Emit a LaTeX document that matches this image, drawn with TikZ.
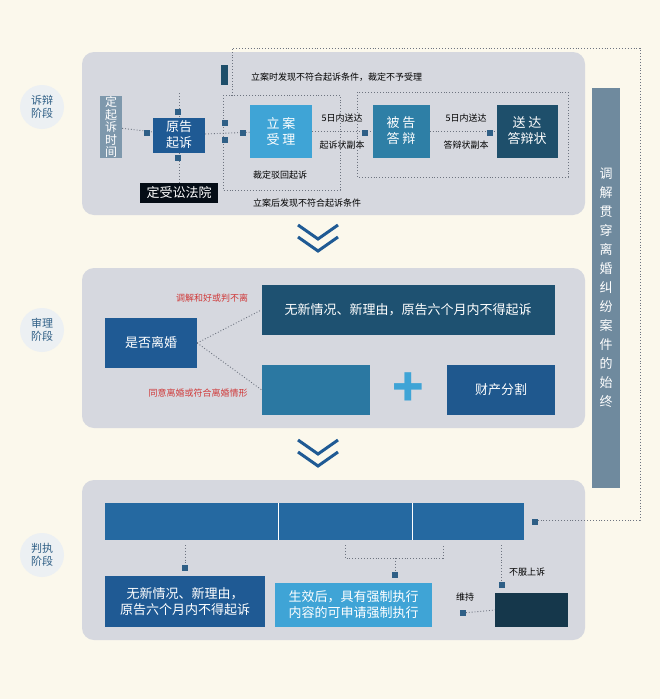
\documentclass[tikz,border=0pt]{standalone}
\usepackage{fontspec}
\setmainfont{Noto Sans CJK SC}
\usetikzlibrary{arrows.meta}
\definecolor{cream}{HTML}{FBF8EC}
\definecolor{panel}{HTML}{D6D8DF}
\definecolor{navy}{HTML}{1F5A94}
\definecolor{sky}{HTML}{3FA4D6}
\definecolor{teal}{HTML}{2E7FA6}
\definecolor{deep}{HTML}{1E4F6B}
\definecolor{slate}{HTML}{7E98AC}
\definecolor{barblue}{HTML}{6F8A9E}
\definecolor{redtxt}{HTML}{D03A3A}
\definecolor{sq}{HTML}{2F5F86}
\definecolor{dline}{HTML}{6E7480}
\begin{document}
\begin{tikzpicture}[x=1pt,y=-1pt,
  box/.style={fill=#1,text=white,inner sep=0pt,align=center,font=\fontsize{13}{16}\selectfont},
  dot/.style={draw=dline,dotted,line width=0.9pt},
  pin/.style={fill=sq,minimum size=6pt,inner sep=0pt},
  note/.style={font=\fontsize{9}{11}\selectfont,inner sep=1pt},
  stage/.style={circle,fill=white!85!slate,text=sq,minimum size=44pt,inner sep=0pt,align=center,font=\fontsize{11}{13}\selectfont},
  chev/.style={draw=navy,line width=3pt}]
\fill[cream] (0,0) rectangle (660,699);
\useasboundingbox (0,0) rectangle (660,699);

% panels
\fill[panel,rounded corners=12pt] (82,52) rectangle (585,215);
\fill[panel,rounded corners=12pt] (82,268) rectangle (585,428);
\fill[panel,rounded corners=12pt] (82,480) rectangle (585,640);

% stage labels
\draw (42,107) node (s1) [stage] {诉辩\\阶段};
\draw (42,330) node (s2) [stage] {审理\\阶段};
\draw (42,555) node (s3) [stage] {判执\\阶段};

% chevrons
\foreach \y in {225,440} {
  \draw[chev] (298,\y) -- (318,\y+14) -- (338,\y);
  \draw[chev] (298,\y+12) -- (318,\y+26) -- (338,\y+12);
}

% right bar
\draw (606,288) node (tiao) [box=barblue,minimum width=28pt,minimum height=400pt,font=\fontsize{13}{19}\selectfont]
  {调\\解\\贯\\穿\\离\\婚\\纠\\纷\\案\\件\\的\\始\\终};

% stage 1
\draw (111,127) node (time) [box=slate,minimum width=22pt,minimum height=62pt,font=\fontsize{12}{12.5}\selectfont] {定\\起\\诉\\时\\间};
\draw (179,135) node (yuan) [box=navy,minimum width=52pt,minimum height=35pt] {原告\\起诉};
\draw (179,193) node (fy) [box=black!85!navy,minimum width=78pt,minimum height=20pt] {定受讼法院};
\draw (224.5,75) node (bar) [box=deep,minimum width=7pt,minimum height=20pt] {};
\draw (281,131) node (la) [box=sky,minimum width=62pt,minimum height=53pt] {立 案\\受 理};
\draw (401,131) node (bg) [box=teal,minimum width=57pt,minimum height=53pt] {被 告\\答 辩};
\draw (527,131) node (sd) [box=deep,minimum width=61pt,minimum height=53pt] {送 达\\答辩状};

\draw (250,77) node [note,anchor=west] {立案时发现不符合起诉条件，裁定不予受理};
\draw (342,118) node [note] {5日内送达};
\draw (342,145) node [note] {起诉状副本};
\draw (466,118) node [note] {5日内送达};
\draw (466,145) node [note] {答辩状副本};
\draw (252,175) node [note,anchor=west] {裁定驳回起诉};
\draw (252,203) node [note,anchor=west] {立案后发现不符合起诉条件};

\draw[dot] (time) -- (yuan);
\draw[dot] (yuan) -- (la);
\draw[dot] (la) -- (bg);
\draw[dot] (bg) -- (sd);
\draw[dot] (yuan.north) -- ++(0,-25);
\draw[dot] (yuan.south) -- (fy.north);
\draw[dot] (223,95) rectangle (340,190);
\draw[dot] (357,92) rectangle (568,177);
\draw[dot] (232,96) -- (232,48) -- (640,48) -- (640,520) -- (535,520);

\foreach \x/\y in {178/112,178/158,147/133,225/123,225/140,243/133,365/133,490/133}
  \node[pin] at (\x,\y) {};

% stage 2
\draw (151,343) node (lh) [box=navy,minimum width=92pt,minimum height=50pt] {是否离婚};
\draw (408,310) node (wx) [box=deep!85!navy,minimum width=293pt,minimum height=50pt] {无新情况、新理由，原告六个月内不得起诉};
\draw (316,390) node (ly) [box=teal!80!navy,minimum width=108pt,minimum height=50pt] {};
\draw (501,390) node (cc) [box=navy!85!deep,minimum width=108pt,minimum height=50pt] {财产分割};
\draw (408,390) node (plus) [text=sky,font=\fontsize{52}{52}\selectfont\bfseries,inner sep=0pt] {+};
\draw[dot] (lh.east) -- (wx.west);
\draw[dot] (lh.east) -- (ly.west);
\draw (212,298) node [note,text=redtxt] {调解和好或判不离};
\draw (198,393) node [note,text=redtxt] {同意离婚或符合离婚情形};

% stage 3
\draw (314.5,521.5) node (pj) [box=navy!80!sky,minimum width=419pt,minimum height=37pt] {};
\draw[white,line width=0.6pt] (278,503) -- (278,540) (412,503) -- (412,540);
\draw (185,601.5) node (wx2) [box=navy,minimum width=160pt,minimum height=51pt] {无新情况、新理由，\\原告六个月内不得起诉};
\draw (353.5,605) node (sx) [box=sky,minimum width=157pt,minimum height=44pt] {生效后，具有强制执行\\内容的可申请强制执行};
\draw (531.5,610) node (es) [box=deep!70!black,minimum width=73pt,minimum height=34pt] {};
\draw (527,572) node [note] {不服上诉};
\draw (465,597) node [note] {维持};
\draw[dot] (185,545) -- (185,568);
\draw[dot] (345,545) -- (345,558) -- (443,558) -- (443,545);
\draw[dot] (395,558) -- (395,575);
\draw[dot] (501,545) -- (501,585);
\draw[dot] (463,613) -- (es.west);
\foreach \x/\y in {185/568,395/575,502/585,463/613,535/522}
  \node[pin] at (\x,\y) {};
\end{tikzpicture}
\end{document}
